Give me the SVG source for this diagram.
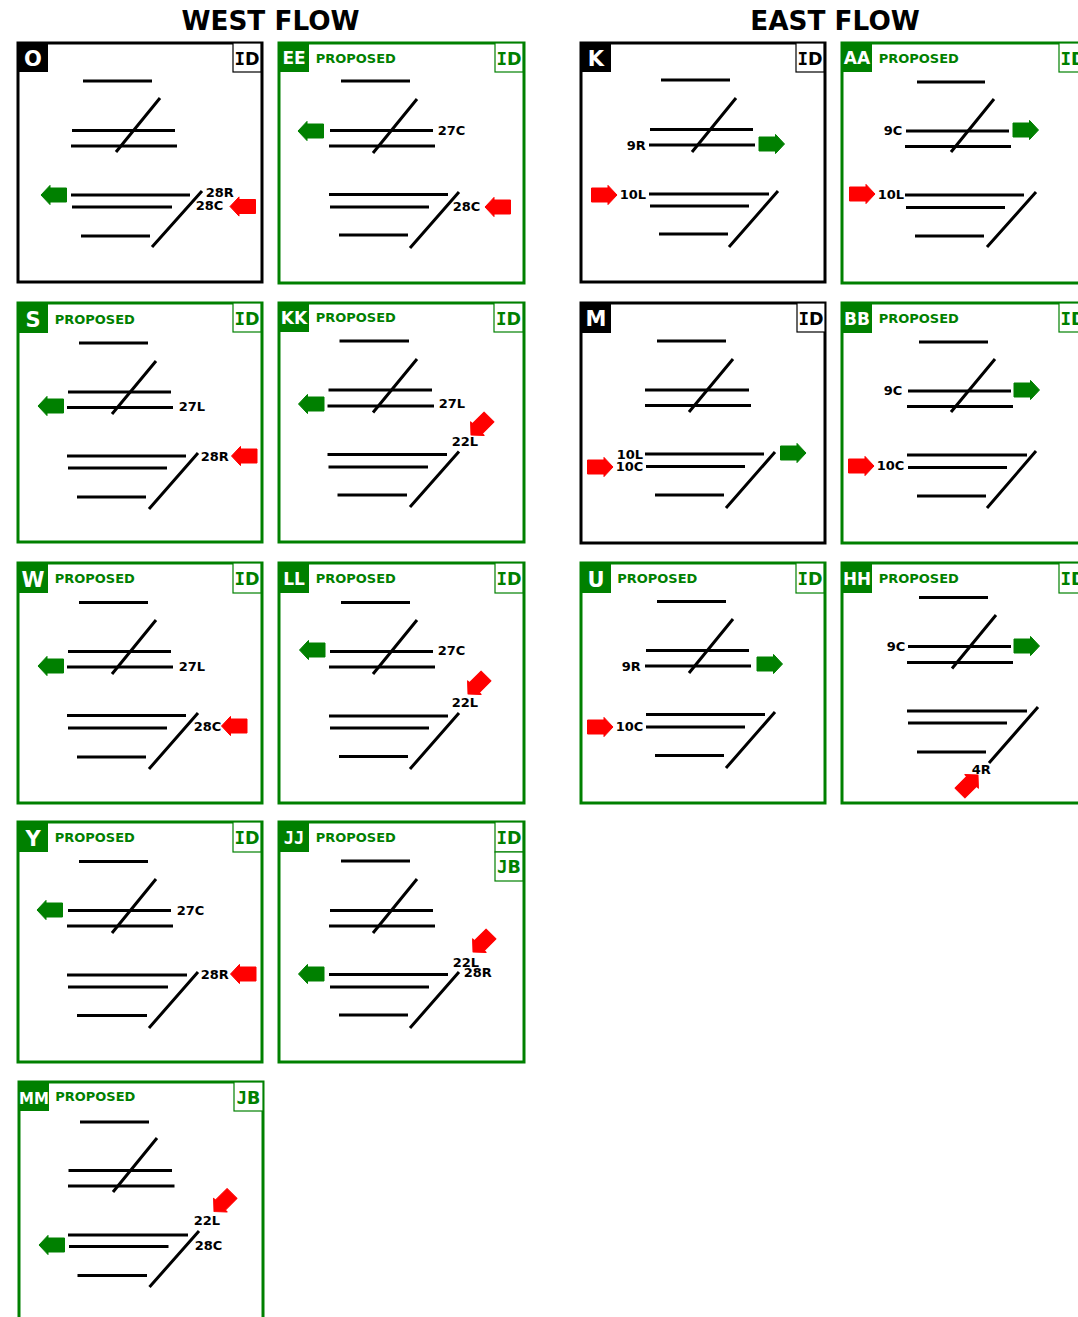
<svg xmlns="http://www.w3.org/2000/svg" xmlns:xlink="http://www.w3.org/1999/xlink" width="1078" height="1317" viewBox="0 0 1078 1317">
<style>
text{font-family:"DejaVu Sans",sans-serif;font-weight:bold}
.m{font-family:"DejaVu Sans Mono",monospace}
.t{font-size:26.300px;text-anchor:middle;fill:#000}
.fb,.fg{fill:#fff;stroke-width:3}
.fb{stroke:#000}.fg{stroke:#008000}
.bb{fill:#000}.bg{fill:#008000}
.ib,.ig{fill:#fff;stroke-width:1.200}
.ib{stroke:#000}.ig{stroke:#008000}
.n{font-size:21px;fill:#fff;text-anchor:middle}
.n2{font-size:17px;fill:#fff;text-anchor:middle}
.p{font-size:13px;fill:#008000;transform:translate(-.3px,0)}
.idb,.idg{font-size:17.500px;text-anchor:middle}
.idb{fill:#000}.idg{fill:#008000}
.l{font-size:13px;fill:#000;transform:translate(-.3px,0)}
.r{stroke:#000;stroke-width:3;fill:none}
.d{stroke:#000;stroke-width:3;fill:none}
.g{fill:#008000;stroke:#008000}
.x{fill:#f00;stroke:#f00}
</style>
<defs>
<path id="a" d="M0,0 L9,-9.600 L9,-7 L25.500,-7 L25.500,7 L9,7 L9,9.600 Z" stroke-width="1" stroke-linejoin="round"/>
</defs>
<text class="t" x="270.500" y="30">WEST FLOW</text>
<text class="t" x="835" y="30">EAST FLOW</text>

<g id="O">
<rect class="fb" x="18" y="43" width="244" height="239"/>
<rect class="bb" x="18" y="43" width="30" height="29"/><text class="n" x="33" y="65.500">O</text>
<rect class="ib" x="233" y="43" width="28" height="29"/><text class="idb" x="247" y="64.500"><tspan class="m">I</tspan>D</text>
<path class="r" d="M83,81H152M72,130.500H175M71,146H177M71,195H190M72,207H172M81,236H150"/>
<path class="d" d="M116,152L160,98M152,247L202,191"/>
<use xlink:href="#a" class="g" transform="translate(41,195)"/>
<use xlink:href="#a" class="x" transform="translate(230,206.500)"/>
<text class="l" x="206" y="197">28R</text><text class="l" x="196" y="210">28C</text>
</g>

<g id="EE">
<rect class="fg" x="279" y="43" width="245" height="240"/>
<rect class="bg" x="279" y="43" width="30" height="29"/><text class="n2" x="294" y="64">EE</text>
<text class="p" x="316" y="63">PROPOSED</text>
<rect class="ig" x="495" y="43" width="28" height="29"/><text class="idg" x="509" y="64.500"><tspan class="m">I</tspan>D</text>
<path class="r" d="M341,81H410M330,130.500H433M329,146H435M329,194.500H448M330,207H429M339,235H408"/>
<path class="d" d="M373,153L417,99M410,248L459,192"/>
<use xlink:href="#a" class="g" transform="translate(298,131)"/>
<use xlink:href="#a" class="x" transform="translate(485,207)"/>
<text class="l" x="438" y="135">27C</text><text class="l" x="453" y="211">28C</text>
</g>

<g id="K">
<rect class="fb" x="581" y="43" width="244" height="239"/>
<rect class="bb" x="581" y="43" width="30" height="29"/><text class="n" x="596" y="65.500">K</text>
<rect class="ib" x="796" y="43" width="28" height="29"/><text class="idb" x="810" y="64.500"><tspan class="m">I</tspan>D</text>
<path class="r" d="M661,80H730M650,129.500H753M649,145H755M649,194H769M650,206H749M659,234H728"/>
<path class="d" d="M692,152L736,98M729,247L778,191"/>
<use xlink:href="#a" class="g" transform="translate(784.500,144) rotate(180)"/>
<use xlink:href="#a" class="x" transform="translate(617,195) rotate(180)"/>
<text class="l" x="627" y="150">9R</text><text class="l" x="620" y="199">10L</text>
</g>

<g id="AA">
<rect class="fg" x="842" y="43" width="250" height="240"/>
<rect class="bg" x="842" y="43" width="30" height="29"/><text class="n2" x="857" y="63.500">AA</text>
<text class="p" x="879" y="63">PROPOSED</text>
<rect class="ig" x="1059" y="43" width="28" height="29"/><text class="idg" x="1073" y="64.500"><tspan class="m">I</tspan>D</text>
<path class="r" d="M917,82H985M906,131H1009M905,146.500H1011M905,195H1024M906,207.500H1005M915,236H984"/>
<path class="d" d="M951,152L994,99M987,247L1036,192"/>
<use xlink:href="#a" class="g" transform="translate(1038.500,130) rotate(180)"/>
<use xlink:href="#a" class="x" transform="translate(875,194) rotate(180)"/>
<text class="l" x="884" y="135">9C</text><text class="l" x="878" y="199">10L</text>
</g>

<g id="S">
<rect class="fg" x="18" y="303" width="244" height="239"/>
<rect class="bg" x="18" y="303" width="30" height="30"/><text class="n" x="33" y="326.500">S</text>
<text class="p" x="55" y="324">PROPOSED</text>
<rect class="ig" x="233" y="303" width="28" height="29"/><text class="idg" x="247" y="324.500"><tspan class="m">I</tspan>D</text>
<path class="r" d="M79,343H148M68,392H171M67,407.500H173M67,456H186M68,468H167M77,497H146"/>
<path class="d" d="M112,414L156,361M149,509L198,453"/>
<use xlink:href="#a" class="g" transform="translate(38,406)"/>
<use xlink:href="#a" class="x" transform="translate(231.500,456)"/>
<text class="l" x="179" y="411">27L</text><text class="l" x="201" y="461">28R</text>
</g>

<g id="KK">
<rect class="fg" x="279" y="303" width="245" height="239"/>
<rect class="bg" x="279" y="303" width="30" height="29"/><text class="n2" x="294" y="324">KK</text>
<text class="p" x="316" y="322">PROPOSED</text>
<rect class="ig" x="494" y="303" width="29" height="29"/><text class="idg" x="508.500" y="324.500"><tspan class="m">I</tspan>D</text>
<path class="r" d="M339.500,341H409M328.500,390H432M327.500,406H434M327.500,454.500H447M328.500,467H428M337.500,495H407"/>
<path class="d" d="M373,412.500L417,359M410,507L459,451.500"/>
<use xlink:href="#a" class="g" transform="translate(298.500,404)"/>
<use xlink:href="#a" class="x" transform="translate(471,435) rotate(-45)"/>
<text class="l" x="439" y="408">27L</text><text class="l" x="452" y="446">22L</text>
</g>

<g id="M">
<rect class="fb" x="581" y="303" width="244" height="240"/>
<rect class="bb" x="581" y="303" width="30" height="30"/><text class="n" x="596" y="326">M</text>
<rect class="ib" x="797" y="303" width="28" height="29"/><text class="idb" x="811" y="324.500"><tspan class="m">I</tspan>D</text>
<path class="r" d="M657,341H726M645,390H749M645,405.500H751M645,454H764M646,466.500H745M655,495H724"/>
<path class="d" d="M689,412L733,359M726,508L775,452"/>
<use xlink:href="#a" class="g" transform="translate(806,453) rotate(180)"/>
<use xlink:href="#a" class="x" transform="translate(613,467) rotate(180)"/>
<text class="l" x="617" y="459">10L</text><text class="l" x="616" y="471">10C</text>
</g>

<g id="BB">
<rect class="fg" x="842" y="303" width="250" height="240"/>
<rect class="bg" x="842" y="303" width="30" height="30"/><text class="n2" x="857" y="324.500">BB</text>
<text class="p" x="879" y="323">PROPOSED</text>
<rect class="ig" x="1059" y="303" width="28" height="29"/><text class="idg" x="1073" y="324.500"><tspan class="m">I</tspan>D</text>
<path class="r" d="M919,342H988M908,391H1011M907,406.500H1013M907,455H1027M908,467.500H1007M917,496H986"/>
<path class="d" d="M951,412L995,359M987,508L1036,451"/>
<use xlink:href="#a" class="g" transform="translate(1039.500,390) rotate(180)"/>
<use xlink:href="#a" class="x" transform="translate(874,466) rotate(180)"/>
<text class="l" x="884" y="395">9C</text><text class="l" x="877" y="470">10C</text>
</g>

<g id="W">
<rect class="fg" x="18" y="563" width="244" height="240"/>
<rect class="bg" x="18" y="563" width="30" height="30"/><text class="n" x="33" y="586.500" textLength="23" lengthAdjust="spacingAndGlyphs">W</text>
<text class="p" x="55" y="583">PROPOSED</text>
<rect class="ig" x="233" y="563" width="28" height="30"/><text class="idg" x="247" y="585"><tspan class="m">I</tspan>D</text>
<path class="r" d="M79,602.500H148M68,651.500H171M67,667H173M67,715.500H186M68,728H167M77,757H146"/>
<path class="d" d="M112,674L156,620M149,769L198,713"/>
<use xlink:href="#a" class="g" transform="translate(38,666)"/>
<use xlink:href="#a" class="x" transform="translate(221.500,726)"/>
<text class="l" x="179" y="671">27L</text><text class="l" x="194" y="731">28C</text>
</g>

<g id="LL">
<rect class="fg" x="279" y="563" width="245" height="240"/>
<rect class="bg" x="279" y="563" width="30" height="30"/><text class="n2" x="294" y="584.500">LL</text>
<text class="p" x="316" y="583">PROPOSED</text>
<rect class="ig" x="495" y="563" width="28" height="30"/><text class="idg" x="509" y="585"><tspan class="m">I</tspan>D</text>
<path class="r" d="M341,602.500H410M330,651.500H433M329,667H435M329,716H448M330,728H429M339,756.500H408"/>
<path class="d" d="M373,674L417,620M410,769L459,713"/>
<use xlink:href="#a" class="g" transform="translate(299.500,650)"/>
<use xlink:href="#a" class="x" transform="translate(468,694) rotate(-45)"/>
<text class="l" x="438" y="655">27C</text><text class="l" x="452" y="707">22L</text>
</g>

<g id="U">
<rect class="fg" x="581" y="563" width="244" height="240"/>
<rect class="bg" x="581" y="563" width="30" height="30"/><text class="n" x="596" y="586.500">U</text>
<text class="p" x="617.500" y="583">PROPOSED</text>
<rect class="ig" x="796" y="563" width="28" height="30"/><text class="idg" x="810" y="585"><tspan class="m">I</tspan>D</text>
<path class="r" d="M657,601.500H726M646,650.500H749M645,666H751M646,714.500H765M646,727H745M655,755.500H724"/>
<path class="d" d="M689,673L733,619M726,768L775,712"/>
<use xlink:href="#a" class="g" transform="translate(782.500,664) rotate(180)"/>
<use xlink:href="#a" class="x" transform="translate(613,727) rotate(180)"/>
<text class="l" x="622" y="671">9R</text><text class="l" x="616" y="731">10C</text>
</g>

<g id="HH">
<rect class="fg" x="842" y="563" width="250" height="240"/>
<rect class="bg" x="842" y="563" width="30" height="30"/><text class="n2" x="857" y="584.500" textLength="28" lengthAdjust="spacingAndGlyphs">HH</text>
<text class="p" x="879" y="583">PROPOSED</text>
<rect class="ig" x="1059" y="563" width="28" height="30"/><text class="idg" x="1073" y="585"><tspan class="m">I</tspan>D</text>
<path class="r" d="M919,597.500H988M908,646.500H1011M907,662.500H1013M907,711H1027M908,723H1007M917,752H986"/>
<path class="d" d="M952,668.500L996,615M989,763L1038,707"/>
<use xlink:href="#a" class="g" transform="translate(1039.500,646) rotate(180)"/>
<use xlink:href="#a" class="x" transform="translate(978,775) rotate(135)"/>
<text class="l" x="887" y="651">9C</text><text class="l" x="972" y="774">4R</text>
</g>

<g id="Y">
<rect class="fg" x="18" y="822" width="244" height="240"/>
<rect class="bg" x="18" y="822" width="30" height="30"/><text class="n" x="33" y="845.500">Y</text>
<text class="p" x="55" y="842">PROPOSED</text>
<rect class="ig" x="233" y="822" width="28" height="30"/><text class="idg" x="247" y="844"><tspan class="m">I</tspan>D</text>
<path class="r" d="M79,861.500H148M68,910.500H171M67,926H173M67,975H187M68,987H168M77,1015.500H147"/>
<path class="d" d="M112,933L156,879M149,1028L198,972"/>
<use xlink:href="#a" class="g" transform="translate(37,910)"/>
<use xlink:href="#a" class="x" transform="translate(230.500,974)"/>
<text class="l" x="177" y="915">27C</text><text class="l" x="201" y="979">28R</text>
</g>

<g id="JJ">
<rect class="fg" x="279" y="822" width="245" height="240"/>
<rect class="bg" x="279" y="822" width="30" height="30"/><text class="n2 m" x="294" y="844">JJ</text>
<text class="p" x="316" y="842">PROPOSED</text>
<rect class="ig" x="495" y="822" width="28" height="30"/><text class="idg" x="509" y="844"><tspan class="m">I</tspan>D</text>
<rect class="ig" x="495" y="852" width="28" height="29"/><text class="idg" x="509" y="873"><tspan class="m">J</tspan>B</text>
<path class="r" d="M341,861H410M330,910.500H433M329,926H435M329,974.500H448M330,987H429M339,1015H408"/>
<path class="d" d="M373,933L417,879M410,1028L459,972"/>
<use xlink:href="#a" class="g" transform="translate(298.500,974)"/>
<use xlink:href="#a" class="x" transform="translate(473,952) rotate(-45)"/>
<text class="l" x="453" y="967">22L</text><text class="l" x="464" y="977">28R</text>
</g>

<g id="MM">
<rect class="fg" x="19" y="1082" width="244" height="245"/>
<rect class="bg" x="19" y="1082" width="30" height="29"/><text class="n2" x="34" y="1103.500" style="font-size:15px">MM</text>
<text class="p" x="55.500" y="1101">PROPOSED</text>
<rect class="ig" x="234" y="1082" width="29" height="29"/><text class="idg" x="248.500" y="1103.500"><tspan class="m">J</tspan>B</text>
<path class="r" d="M80,1122H149M68.500,1170.500H172M68,1186H174.500M68,1235H188M69,1246.500H168.500M77.500,1275.500H147"/>
<path class="d" d="M113,1192L157,1138M149.500,1287L199,1231"/>
<use xlink:href="#a" class="g" transform="translate(39,1245)"/>
<use xlink:href="#a" class="x" transform="translate(214,1211.500) rotate(-45)"/>
<text class="l" x="194" y="1225">22L</text><text class="l" x="195" y="1250">28C</text>
</g>
</svg>
